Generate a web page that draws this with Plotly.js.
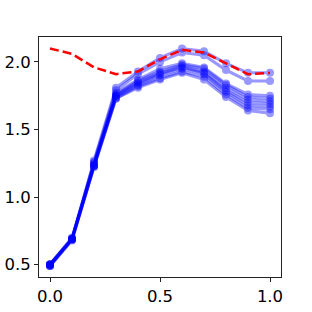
<!DOCTYPE html>
<html>
<head>
<meta charset="utf-8">
<script src="https://cdn.plot.ly/plotly-3.0.1.min.js"></script>
<style>html,body{margin:0;padding:0;background:#fff;}#chart{width:312px;height:312px;}</style>
</head>
<body>
<div id="chart"></div>
<script>
const xValues = [0.0, 0.1, 0.2, 0.3, 0.4, 0.5, 0.6, 0.7, 0.8, 0.9, 1.0];
const redLine = [2.10, 2.06, 1.96, 1.91, 1.93, 2.02, 2.09, 2.07, 1.99, 1.91, 1.92];
const blue1 = [0.50, 0.69, 1.27, 1.81, 1.93, 2.03, 2.10, 2.08, 1.99, 1.92, 1.92];
const blue2 = [0.50, 0.69, 1.26, 1.79, 1.91, 2.00, 2.07, 2.05, 1.94, 1.86, 1.86];
const blue3 = [0.50, 0.70, 1.25, 1.77, 1.87, 1.95, 1.99, 1.96, 1.84, 1.76, 1.75];
const blue4 = [0.50, 0.69, 1.24, 1.76, 1.86, 1.93, 1.98, 1.95, 1.83, 1.74, 1.73];
const blue5 = [0.49, 0.69, 1.24, 1.75, 1.85, 1.92, 1.97, 1.93, 1.81, 1.72, 1.71];
const blue6 = [0.49, 0.68, 1.23, 1.75, 1.84, 1.91, 1.96, 1.92, 1.79, 1.70, 1.69];
const blue7 = [0.50, 0.69, 1.23, 1.74, 1.83, 1.90, 1.95, 1.91, 1.78, 1.68, 1.67];
const blue8 = [0.49, 0.68, 1.22, 1.73, 1.82, 1.88, 1.93, 1.89, 1.76, 1.66, 1.65];
const blue9 = [0.50, 0.69, 1.23, 1.73, 1.81, 1.87, 1.92, 1.87, 1.74, 1.64, 1.62];
const blueSeries = [blue1, blue2, blue3, blue4, blue5, blue6, blue7, blue8, blue9];
const xTicks = [0.0, 0.5, 1.0];
const xTickLabels = ["0.0", "0.5", "1.0"];
const yTicks = [0.5, 1.0, 1.5, 2.0];
const yTickLabels = ["0.5", "1.0", "1.5", "2.0"];

const traces = blueSeries.map(ys => ({
  x: xValues, y: ys, type: 'scatter', mode: 'lines+markers',
  line: {color: '#0000ff', width: 3},
  marker: {color: '#0000ff', size: 8},
  opacity: 0.4, showlegend: false, hoverinfo: 'skip'
}));
traces.push({
  x: xValues, y: redLine, type: 'scatter', mode: 'lines',
  line: {color: '#ff0000', width: 2.5, dash: '9px,4px'},
  showlegend: false, hoverinfo: 'skip'
});

const axisCommon = {
  showgrid: false, zeroline: false, showline: true, mirror: true,
  linecolor: '#222', linewidth: 1, ticks: 'outside', ticklen: 4, tickwidth: 1,
  tickcolor: '#222', tickfont: {family: 'DejaVu Sans', size: 16.5, color: '#000'}
};
const layout = {
  width: 312, height: 312,
  margin: {l: 39, r: 31, t: 37, b: 35},
  paper_bgcolor: '#fff', plot_bgcolor: '#fff',
  xaxis: Object.assign({}, axisCommon, {range: [-0.05, 1.05], tickvals: xTicks, ticktext: xTickLabels}),
  yaxis: Object.assign({}, axisCommon, {range: [0.408, 2.185], tickvals: yTicks, ticktext: yTickLabels})
};
Plotly.newPlot('chart', traces, layout, {staticPlot: true, displayModeBar: false});
</script>
</body>
</html>
